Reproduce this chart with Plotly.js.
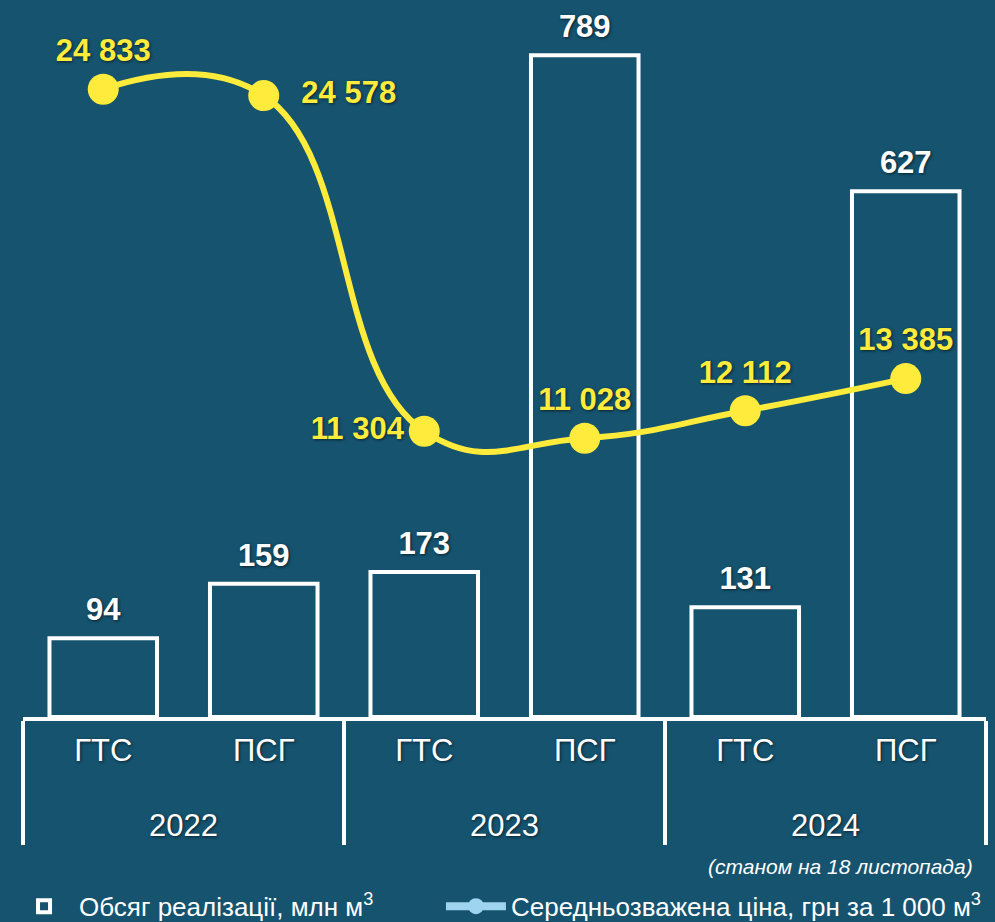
<!DOCTYPE html>
<html>
<head>
<meta charset="utf-8">
<script src="https://cdn.plot.ly/plotly-3.0.1.min.js"></script>
<style>
  html, body { margin: 0; padding: 0; background: #15536f; }
  #chart { width: 995px; height: 922px; }
</style>
</head>
<body>
<div id="chart"></div>
<script>
// Chart data
const years = ['2022', '2022', '2023', '2023', '2024', '2024'];
const points = ['ГТС', 'ПСГ', 'ГТС', 'ПСГ', 'ГТС', 'ПСГ'];
const volumes = [94, 159, 173, 789, 131, 627];
const prices = [24833, 24578, 11304, 11028, 12112, 13385];
const priceLabelPos = ['top center', 'middle right', 'middle left', 'top center', 'top center', 'top center'];

const BG = '#15536f';
const YELLOW = '#ffeb3b';
const FONT = 'Liberation Sans, Arial, sans-serif';
const shadow = '1px 1px 3px rgba(0,0,0,0.6)';

// year labels sit one line below the point labels
const xCats = [years.map(y => '<br>' + y), points];

const barTrace = {
    type: 'bar',
    name: 'Обсяг реалізації, млн м<sup>3</sup>',
    legend: 'legend',
    x: xCats,
    y: volumes,
    yaxis: 'y',
    marker: { color: BG, line: { color: '#ffffff', width: 4 } },
    hoverinfo: 'skip'
};

// value labels above the bars
const barLabels = {
    type: 'scatter',
    mode: 'markers+text',
    showlegend: false,
    x: xCats,
    y: volumes,
    yaxis: 'y',
    marker: { size: 15, opacity: 0 },
    text: volumes.map(String),
    textposition: 'top center',
    cliponaxis: false,
    textfont: { family: FONT, size: 31, color: '#ffffff', weight: 'bold', shadow: shadow },
    hoverinfo: 'skip'
};

const priceTrace = {
    type: 'scatter',
    mode: 'lines+markers+text',
    name: 'Середньозважена ціна, грн за 1 000 м<sup>3</sup>',
    showlegend: false,
    x: xCats,
    y: prices,
    yaxis: 'y2',
    line: { color: YELLOW, width: 6, shape: 'spline', smoothing: 1.3 },
    marker: { color: YELLOW, size: 31 },
    texttemplate: ['%{y:,.0f}', '\u00a0\u00a0%{y:,.0f}', '%{y:,.0f}', '%{y:,.0f}', '%{y:,.0f}', '%{y:,.0f}'],
    textposition: priceLabelPos,
    cliponaxis: false,
    textfont: { family: FONT, size: 31, color: YELLOW, weight: 'bold', shadow: shadow },
    hoverinfo: 'skip'
};

// legend entry for the price line (light blue in the original legend)
const priceLegend = {
    type: 'scatter',
    mode: 'lines+markers',
    name: 'Середньозважена ціна, грн за 1 000 м<sup>3</sup>',
    legend: 'legend2',
    x: [null],
    y: [null],
    yaxis: 'y2',
    line: { color: '#9fd4f0', width: 8 },
    marker: { color: '#9fd4f0', size: 16 },
    hoverinfo: 'skip'
};

const legendBase = {
    orientation: 'h',
    xanchor: 'left',
    y: -0.264,
    yanchor: 'middle',
    bgcolor: 'rgba(0,0,0,0)',
    itemwidth: 60,
    font: { size: 26, color: '#ffffff' }
};

const layout = {
    width: 995,
    height: 922,
    paper_bgcolor: BG,
    plot_bgcolor: BG,
    separators: ', ',
    margin: { l: 23, r: 9, t: 0, b: 205, autoexpand: false },
    bargap: 0.33,
    font: { family: FONT, color: '#ffffff' },
    xaxis: {
        type: 'multicategory',
        showline: true,
        linecolor: '#ffffff',
        linewidth: 4,
        showdividers: true,
        dividercolor: '#ffffff',
        dividerwidth: 4,
        ticks: '',
        ticklabelstandoff: 3,
        tickfont: { size: 31, color: '#ffffff', shadow: shadow },
        showgrid: false
    },
    yaxis: {
        range: [0, 855],
        visible: false,
        showgrid: false,
        zeroline: false
    },
    yaxis2: {
        range: [0, 28360],
        overlaying: 'y',
        visible: false,
        showgrid: false,
        zeroline: false
    },
    showlegend: true,
    legend: Object.assign({}, legendBase, { x: -0.0145 }),
    legend2: Object.assign({}, legendBase, { x: 0.434 }),
    annotations: [{
        text: '<i>(станом на 18 листопада)</i>',
        xref: 'paper', yref: 'paper',
        x: 0.9886, y: -0.208,
        xanchor: 'right', yanchor: 'middle',
        showarrow: false,
        font: { size: 21, color: '#ffffff' }
    }]
};

Plotly.newPlot('chart', [barTrace, barLabels, priceTrace, priceLegend], layout, { displayModeBar: false, staticPlot: true });
</script>
</body>
</html>
